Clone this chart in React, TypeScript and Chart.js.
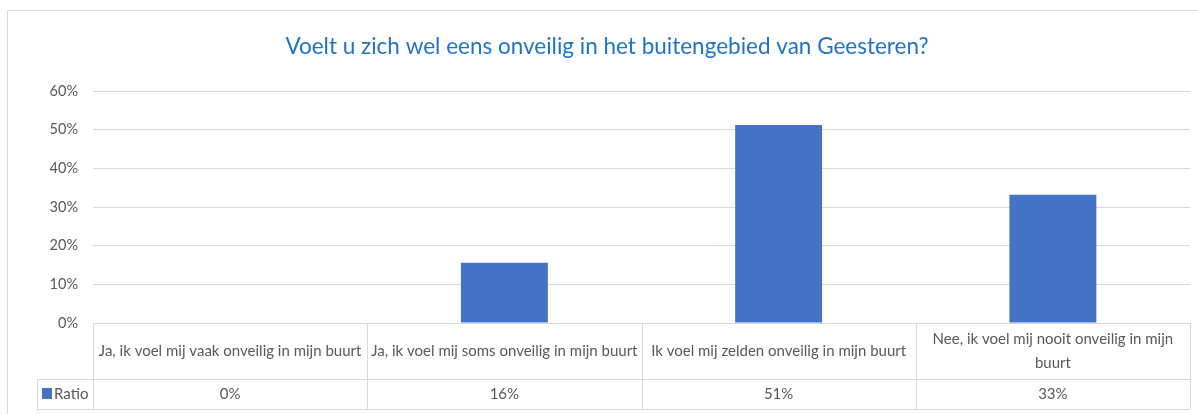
import React, { useEffect, useRef } from "react";
import { Chart, registerables } from "chart.js";

Chart.register(...registerables);

const chartTitle = "Voelt u zich wel eens onveilig in het buitengebied van Geesteren?";
const categories: (string | string[])[] = [
  "Ja, ik voel mij vaak onveilig in mijn buurt",
  "Ja, ik voel mij soms onveilig in mijn buurt",
  "Ik voel mij zelden onveilig in mijn buurt",
  ["Nee, ik voel mij nooit onveilig in mijn", "buurt"],
];
const seriesName = "Ratio";
const ratioValues = [0, 0.156, 0.512, 0.332];
const yMin = 0;
const yMax = 0.6;
const yStep = 0.1;

const FONT = "Lato, 'Liberation Sans', sans-serif";
const TEXT = "#595959";
const LINE = "#d9d9d9";
const BAR = "#4472C4";
const TITLE = "#1F74C6";

const pct = (v: number) => Math.round(v * 100) + "%";

const excelPlugin = {
  id: "excelTable",
  beforeDraw(chart: any) {
    const ctx = chart.ctx;
    ctx.save();
    ctx.fillStyle = "#ffffff";
    ctx.fillRect(0, 0, chart.width, chart.height);
    ctx.restore();
  },
  afterDraw(chart: any) {
    const ctx = chart.ctx as CanvasRenderingContext2D;
    const { left, right, bottom } = chart.chartArea;
    const n = categories.length;
    const colW = (right - left) / n;
    const xs = chart.scales.x;
    const top1 = Math.round(bottom);
    const top2 = top1 + 56;
    const top3 = top2 + 30;
    const legendLeft = 37;

    ctx.save();
    // outer chart border
    ctx.strokeStyle = LINE;
    ctx.lineWidth = 1;
    ctx.beginPath();
    ctx.moveTo(7.5, chart.height);
    ctx.lineTo(7.5, 10.5);
    ctx.lineTo(chart.width, 10.5);
    ctx.stroke();

    // title
    ctx.fillStyle = TITLE;
    ctx.font = `22.5px ${FONT}`;
    ctx.textAlign = "center";
    ctx.textBaseline = "middle";
    ctx.fillText(chartTitle, 607, 47);

    // table lines
    ctx.strokeStyle = LINE;
    ctx.beginPath();
    ctx.moveTo(left, top1 + 0.5);
    ctx.lineTo(right, top1 + 0.5);
    ctx.moveTo(legendLeft, top2 + 0.5);
    ctx.lineTo(right, top2 + 0.5);
    ctx.moveTo(legendLeft, top3 + 0.5);
    ctx.lineTo(right, top3 + 0.5);
    ctx.moveTo(legendLeft + 0.5, top2);
    ctx.lineTo(legendLeft + 0.5, top3);
    for (let i = 0; i <= n; i++) {
      const bx = Math.round(xs.getPixelForValue(0) - colW / 2 + i * colW) + 0.5;
      ctx.moveTo(bx, top1);
      ctx.lineTo(bx, top3);
    }
    ctx.stroke();

    // category labels and values
    ctx.fillStyle = TEXT;
    ctx.font = `15px ${FONT}`;
    ctx.textAlign = "center";
    ctx.textBaseline = "middle";
    const headMid = (top1 + top2) / 2;
    const valMid = (top2 + top3) / 2;
    const lineH = 24;
    categories.forEach((cat, i) => {
      const cx = xs.getPixelForValue(i);
      const lines = Array.isArray(cat) ? cat : [cat];
      const y0 = headMid - ((lines.length - 1) * lineH) / 2;
      lines.forEach((ln, j) => ctx.fillText(ln, cx, y0 + j * lineH));
      ctx.fillText(pct(ratioValues[i]), cx, valMid);
    });

    // legend key
    ctx.fillStyle = BAR;
    ctx.fillRect(42, valMid - 6, 10, 11);
    ctx.fillStyle = TEXT;
    ctx.textAlign = "left";
    ctx.fillText(seriesName, 54, valMid);
    ctx.restore();
  },
};

export default function App() {
  const ref = useRef<HTMLCanvasElement | null>(null);
  useEffect(() => {
    if (!ref.current) return;
    const chart = new Chart(ref.current, {
      type: "bar",
      data: {
        labels: categories,
        datasets: [
          {
            label: seriesName,
            data: ratioValues,
            backgroundColor: BAR,
            borderWidth: 0,
            barPercentage: 0.317,
            categoryPercentage: 1,
          },
        ],
      },
      options: {
        responsive: false,
        animation: false,
        devicePixelRatio: 1,
        layout: { padding: { left: 0, top: 91, right: 8, bottom: 91 } },
        plugins: {
          legend: { display: false },
          tooltip: { enabled: false },
          title: { display: false },
        },
        scales: {
          x: { display: false },
          y: {
            min: yMin,
            max: yMax,
            ticks: {
              stepSize: yStep,
              padding: 15,
              color: TEXT,
              font: { family: FONT, size: 14.5 },
              callback: (v: any) => pct(Number(v)),
            },
            grid: { color: LINE, lineWidth: 1, drawTicks: false },
            border: { display: false },
            afterFit: (scale: any) => {
              scale.width = 93;
            },
          } as any,
        },
      },
      plugins: [excelPlugin],
    });
    return () => chart.destroy();
  }, []);
  return (
    <div style={{ position: "absolute", left: 0, top: 0, width: 1198, height: 414 }}>
      <canvas ref={ref} width={1198} height={414} style={{ display: "block" }} />
    </div>
  );
}
